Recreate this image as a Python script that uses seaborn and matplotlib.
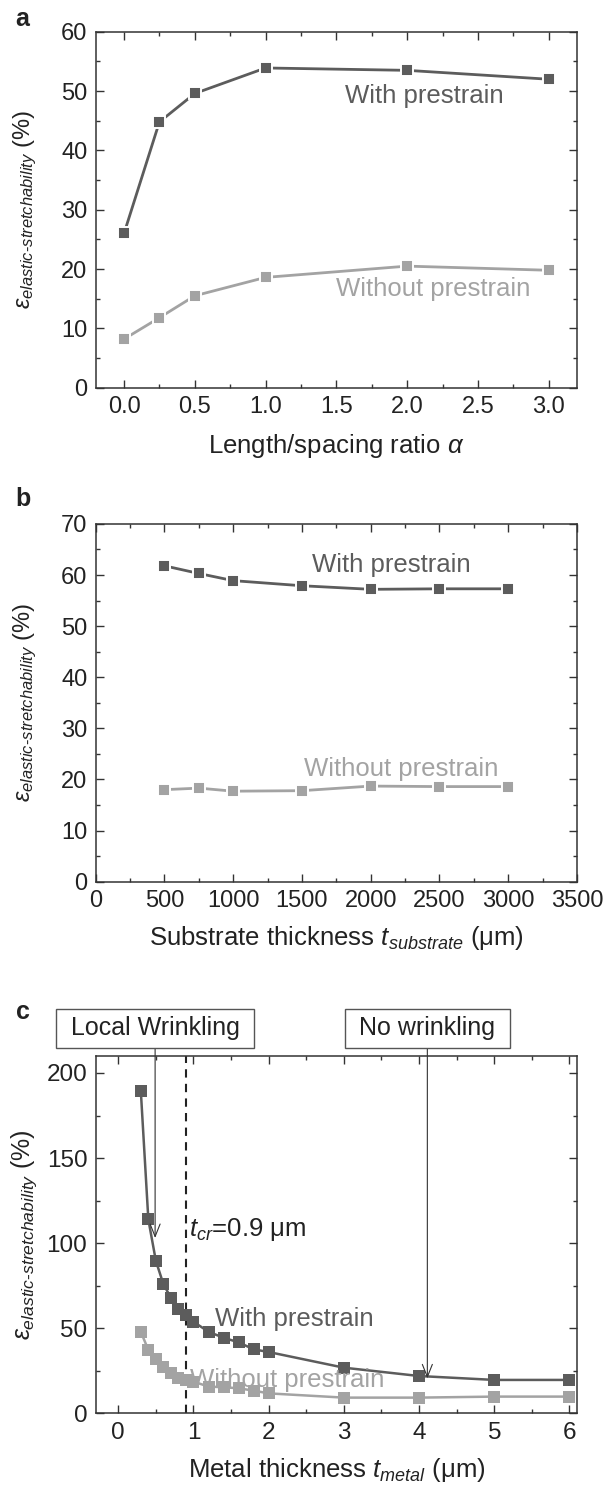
import matplotlib
matplotlib.use("Agg")
import matplotlib.pyplot as plt
import seaborn as sns
import numpy as np

# ---- data ----
alpha_ratio = [0.0, 0.25, 0.5, 1.0, 2.0, 3.0]
a_with = [26.0, 44.8, 49.6, 53.9, 53.5, 52.0]
a_without = [8.2, 11.8, 15.5, 18.6, 20.5, 19.8]

substrate_t = [500, 750, 1000, 1500, 2000, 2500, 3000]
b_with = [61.8, 60.3, 58.9, 57.9, 57.2, 57.3, 57.3]
b_without = [18.0, 18.3, 17.7, 17.8, 18.7, 18.6, 18.6]

metal_t = [0.3, 0.4, 0.5, 0.6, 0.7, 0.8, 0.9, 1.0, 1.2, 1.4, 1.6, 1.8, 2.0, 3.0, 4.0, 5.0, 6.0]
c_with = [189.4, 113.9, 89.6, 75.9, 67.9, 61.0, 57.7, 53.8, 47.9, 44.4, 41.7, 37.6, 36.0, 26.8, 21.9, 19.6, 19.6]
c_without = [47.9, 37.2, 32.1, 27.4, 23.5, 20.9, 19.6, 18.6, 15.7, 15.3, 14.7, 13.3, 11.7, 9.2, 9.2, 9.8, 9.8]

t_cr = 0.9

sns.set_theme(style="ticks")
plt.rcParams['font.family'] = ['Liberation Sans', 'DejaVu Sans']
plt.rcParams['mathtext.fontset'] = 'custom'
plt.rcParams['mathtext.rm'] = 'Liberation Sans'
plt.rcParams['mathtext.it'] = 'Liberation Sans:italic'
plt.rcParams['mathtext.bf'] = 'Liberation Sans:bold'

DARK = '#5c5c5c'
LIGHT = '#a3a3a3'
SPINE = '#333333'
TXT = '#222222'

fig = plt.figure(figsize=(6.05, 14.85), dpi=100)
L, W = 95.7 / 605, 481.3 / 605
axA = fig.add_axes([L, 0.7389, W, 0.2397])
axB = fig.add_axes([L, 0.4063, W, 0.2409])
axC = fig.add_axes([L, 0.0483, W, 0.2406])

ylab = r'$\varepsilon_{elastic\text{-}stretchability}$ (%)'


def style(ax, tick_fs):
    for s in ax.spines.values():
        s.set_color(SPINE)
        s.set_linewidth(1.1)
    ax.tick_params(which='both', direction='in', top=True, right=True,
                   colors=SPINE, labelcolor=TXT, width=1.0)
    ax.tick_params(which='major', length=5.5, labelsize=tick_fs, pad=6)
    ax.tick_params(which='minor', length=3)


def series(ax, x, y, color, ms, mew, lw):
    sns.lineplot(x=x, y=y, ax=ax, color=color, marker='s', markersize=ms,
                 markeredgecolor='white', markeredgewidth=mew, linewidth=lw)


# ---- panel a ----
series(axA, alpha_ratio, a_with, DARK, 9, 1.4, 2.0)
series(axA, alpha_ratio, a_without, LIGHT, 9, 1.4, 2.0)
axA.set_xlim(-0.2, 3.2)
axA.set_ylim(0, 60)
axA.set_xticks(np.arange(0, 3.01, 0.5))
axA.set_xticks(np.arange(0.25, 3.1, 0.5), minor=True)
axA.set_xticklabels(['0.0', '0.5', '1.0', '1.5', '2.0', '2.5', '3.0'])
axA.set_yticks(np.arange(0, 61, 10))
axA.set_yticks(np.arange(5, 60, 10), minor=True)
style(axA, 17)
axA.set_xlabel(r'Length/spacing ratio $\alpha$', fontsize=18.5, color=TXT, labelpad=10)
axA.set_ylabel(ylab, fontsize=17, color=TXT)
axA.yaxis.set_label_coords(-0.118, 0.5)
axA.text(1.56, 49.2, 'With prestrain', fontsize=18.5, color=DARK, va='center', ha='left')
axA.text(1.50, 16.6, 'Without prestrain', fontsize=18.5, color=LIGHT, va='center', ha='left')

# ---- panel b ----
series(axB, substrate_t, b_with, DARK, 9, 1.4, 2.0)
series(axB, substrate_t, b_without, LIGHT, 9, 1.4, 2.0)
axB.set_xlim(0, 3500)
axB.set_ylim(0, 70)
axB.set_xticks(np.arange(0, 3501, 500))
axB.set_xticks(np.arange(250, 3500, 500), minor=True)
axB.set_yticks(np.arange(0, 71, 10))
axB.set_yticks(np.arange(5, 70, 10), minor=True)
style(axB, 17)
axB.set_xlabel(r'Substrate thickness $t_{substrate}$ (μm)', fontsize=18.5, color=TXT, labelpad=9)
axB.set_ylabel(ylab, fontsize=17, color=TXT)
axB.yaxis.set_label_coords(-0.118, 0.5)
axB.text(1576, 62.0, 'With prestrain', fontsize=18.5, color=DARK, va='center', ha='left')
axB.text(1512, 22.0, 'Without prestrain', fontsize=18.5, color=LIGHT, va='center', ha='left')

# ---- panel c ----
axC.axvline(t_cr, color=TXT, linestyle=(0, (4, 3)), linewidth=1.5, zorder=1)
series(axC, metal_t, c_with, DARK, 8.5, 0.0, 1.8)
series(axC, metal_t, c_without, LIGHT, 8.5, 0.0, 1.8)
axC.set_xlim(-0.3, 6.1)
axC.set_ylim(0, 210)
axC.set_xticks(np.arange(0, 7, 1))
axC.set_xticks(np.arange(0.5, 6.1, 1), minor=True)
axC.set_yticks(np.arange(0, 201, 50))
axC.set_yticks(np.arange(25, 210, 50), minor=True)
style(axC, 17.5)
axC.set_xlabel(r'Metal thickness $t_{metal}$ (μm)', fontsize=18.5, color=TXT, labelpad=9)
axC.set_ylabel(ylab, fontsize=18, color=TXT)
axC.yaxis.set_label_coords(-0.118, 0.5)
axC.text(1.29, 55.2, 'With prestrain', fontsize=18.5, color=DARK, va='center', ha='left')
axC.text(0.95, 19.6, 'Without prestrain', fontsize=18.5, color=LIGHT, va='center', ha='left')
axC.text(0.94, 108, r'$t_{cr}$=0.9 μm', fontsize=18.5, color=TXT, va='center', ha='left')

box = dict(boxstyle='square,pad=0.3', facecolor='white', edgecolor='#555555', linewidth=1.0)
arrow = dict(arrowstyle='->,head_length=0.5,head_width=0.2', color='#333333', linewidth=0.8,
             shrinkA=0, shrinkB=0)
axC.annotate(' Local Wrinkling ', xy=(0.49, 103), xytext=(0.49, 226.3), fontsize=18,
             color=TXT, ha='center', va='center', bbox=box, arrowprops=arrow,
             annotation_clip=False)
axC.annotate(' No wrinkling ', xy=(4.11, 20.5), xytext=(4.11, 226.3), fontsize=18,
             color=TXT, ha='center', va='center', bbox=box, arrowprops=arrow,
             annotation_clip=False)

# ---- panel letters ----
fig.text(15 / 605, 1 - 26 / 1485, 'a', fontsize=18, fontweight='bold', color=TXT)
fig.text(15 / 605, 1 - 506 / 1485, 'b', fontsize=18, fontweight='bold', color=TXT)
fig.text(16 / 605, 1 - 1019 / 1485, 'c', fontsize=18, fontweight='bold', color=TXT)

fig.savefig('out.png', dpi=100)
